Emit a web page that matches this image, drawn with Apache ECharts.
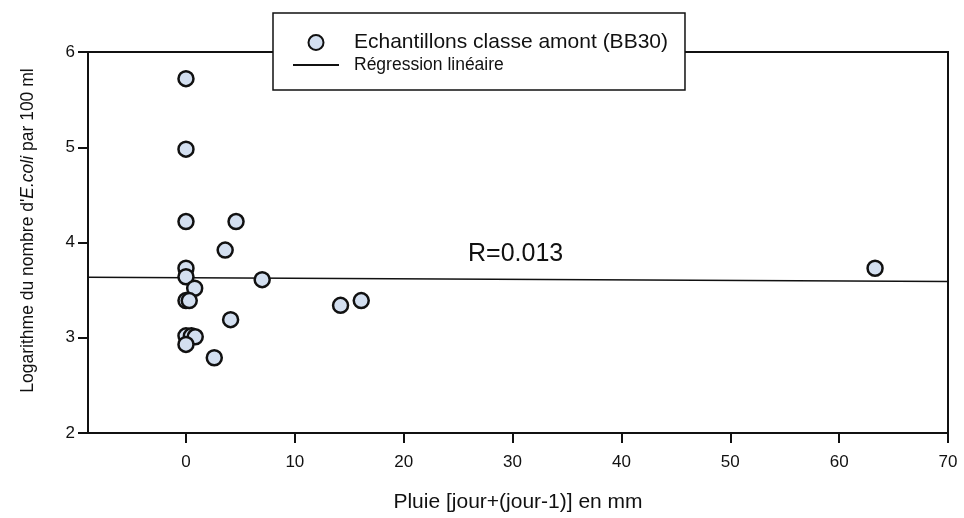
<!DOCTYPE html>
<html>
<head>
<meta charset="utf-8">
<script src="https://cdn.jsdelivr.net/npm/echarts@6/dist/echarts.min.js"></script>
<style>html,body{margin:0;padding:0;background:#fff}#c{width:964px;height:518px}</style>
</head>
<body>
<div id="c"></div>
<script>
// Rainfall (mm) of each sample
const rainX = [0, 0, 0, 4.6, 3.6, 0, 0, 7.0, 0.8, 0, 0.3, 4.1, 0, 0.5, 0.85, 0, 2.6, 14.2, 16.1, 63.3];
// log10 E. coli per 100 ml
const logEcoli = [5.72, 4.98, 4.22, 4.22, 3.92, 3.73, 3.64, 3.61, 3.52, 3.39, 3.39, 3.19, 3.02, 3.02, 3.01, 2.93, 2.79, 3.34, 3.39, 3.73];
// regression line end points
const regX = [-9, 70];
const regY = [3.635, 3.59];
const xTicks = [0, 10, 20, 30, 40, 50, 60, 70];
const yTicks = [2, 3, 4, 5, 6];
const seriesNames = ['Echantillons classe amont (BB30)', 'Régression linéaire'];
const rLabel = 'R=0.013';

const FONT = '"Liberation Sans", Arial, sans-serif';
const chart = echarts.init(document.getElementById('c'), null, {renderer: 'canvas'});
chart.setOption({
  animation: false,
  backgroundColor: '#fff',
  textStyle: {fontFamily: FONT, color: '#111'},
  grid: {left: 88, right: 16, top: 52, bottom: 83, show: true, borderColor: '#111', borderWidth: 2, backgroundColor: 'transparent'},
  xAxis: {
    type: 'value', min: -9, max: xTicks[xTicks.length - 1],
    splitLine: {show: false},
    axisLine: {onZero: false, lineStyle: {color: '#111', width: 2}},
    axisTick: {inside: false, length: 10, customValues: xTicks, lineStyle: {color: '#111', width: 2}},
    axisLabel: {fontSize: 17, color: '#111', margin: 21, fontFamily: FONT, customValues: xTicks},
    name: 'Pluie [jour+(jour-1)] en mm', nameLocation: 'middle', nameGap: 59,
    nameTextStyle: {fontSize: 21, color: '#111', fontFamily: FONT}
  },
  yAxis: {
    type: 'value', min: yTicks[0], max: yTicks[yTicks.length - 1], interval: 1,
    splitLine: {show: false},
    axisLine: {onZero: false, lineStyle: {color: '#111', width: 2}},
    axisTick: {inside: false, length: 10, lineStyle: {color: '#111', width: 2}},
    axisLabel: {fontSize: 17, color: '#111', margin: 13, fontFamily: FONT},
    name: "{n|Logarithme du nombre d'}{i|E.coli}{n| par 100 ml}",
    nameLocation: 'middle', nameGap: 51,
    nameTextStyle: {
      padding: [0, 0, 0, 24],
      rich: {
        n: {fontSize: 17.5, color: '#111', fontFamily: FONT},
        i: {fontSize: 17.5, color: '#111', fontFamily: FONT, fontStyle: 'italic'}
      }
    }
  },
  legend: {
    orient: 'vertical', left: 273, top: 13,
    padding: [19, 17, 16, 19],
    itemWidth: 46, itemHeight: 15, itemGap: 3,
    backgroundColor: '#fff', borderColor: '#111', borderWidth: 1.5,
    data: [
      {name: seriesNames[0]},
      {name: seriesNames[1], itemStyle: {color: 'rgba(0,0,0,0)', borderColor: 'rgba(0,0,0,0)', borderWidth: 0}}
    ],
    formatter: function (name) {
      return name === seriesNames[0] ? '{a|' + name + '}' : '{b|' + name + '}';
    },
    textStyle: {
      rich: {
        a: {fontSize: 21, lineHeight: 20, color: '#111', fontFamily: FONT, padding: [0, 0, 0, 10]},
        b: {fontSize: 17.5, lineHeight: 17, color: '#111', fontFamily: FONT, padding: [0, 0, 0, 10]}
      }
    },
    z: 10
  },
  graphic: [{
    type: 'text', left: 468, top: 242, z: 5,
    style: {text: rLabel, font: '25px ' + FONT, fill: '#111'}
  }],
  series: [
    {
      name: seriesNames[0], type: 'scatter', symbol: 'circle', symbolSize: 15,
      itemStyle: {color: '#d3dff0', borderColor: '#111', borderWidth: 2.5, opacity: 1},
      data: rainX.map((x, i) => [x, logEcoli[i]]), z: 4
    },
    {
      name: seriesNames[1], type: 'line', symbol: 'none', showSymbol: false,
      lineStyle: {color: '#111', width: 1.5}, itemStyle: {color: '#111'},
      data: regX.map((x, i) => [x, regY[i]]), z: 3
    }
  ]
});
</script>
</body>
</html>
